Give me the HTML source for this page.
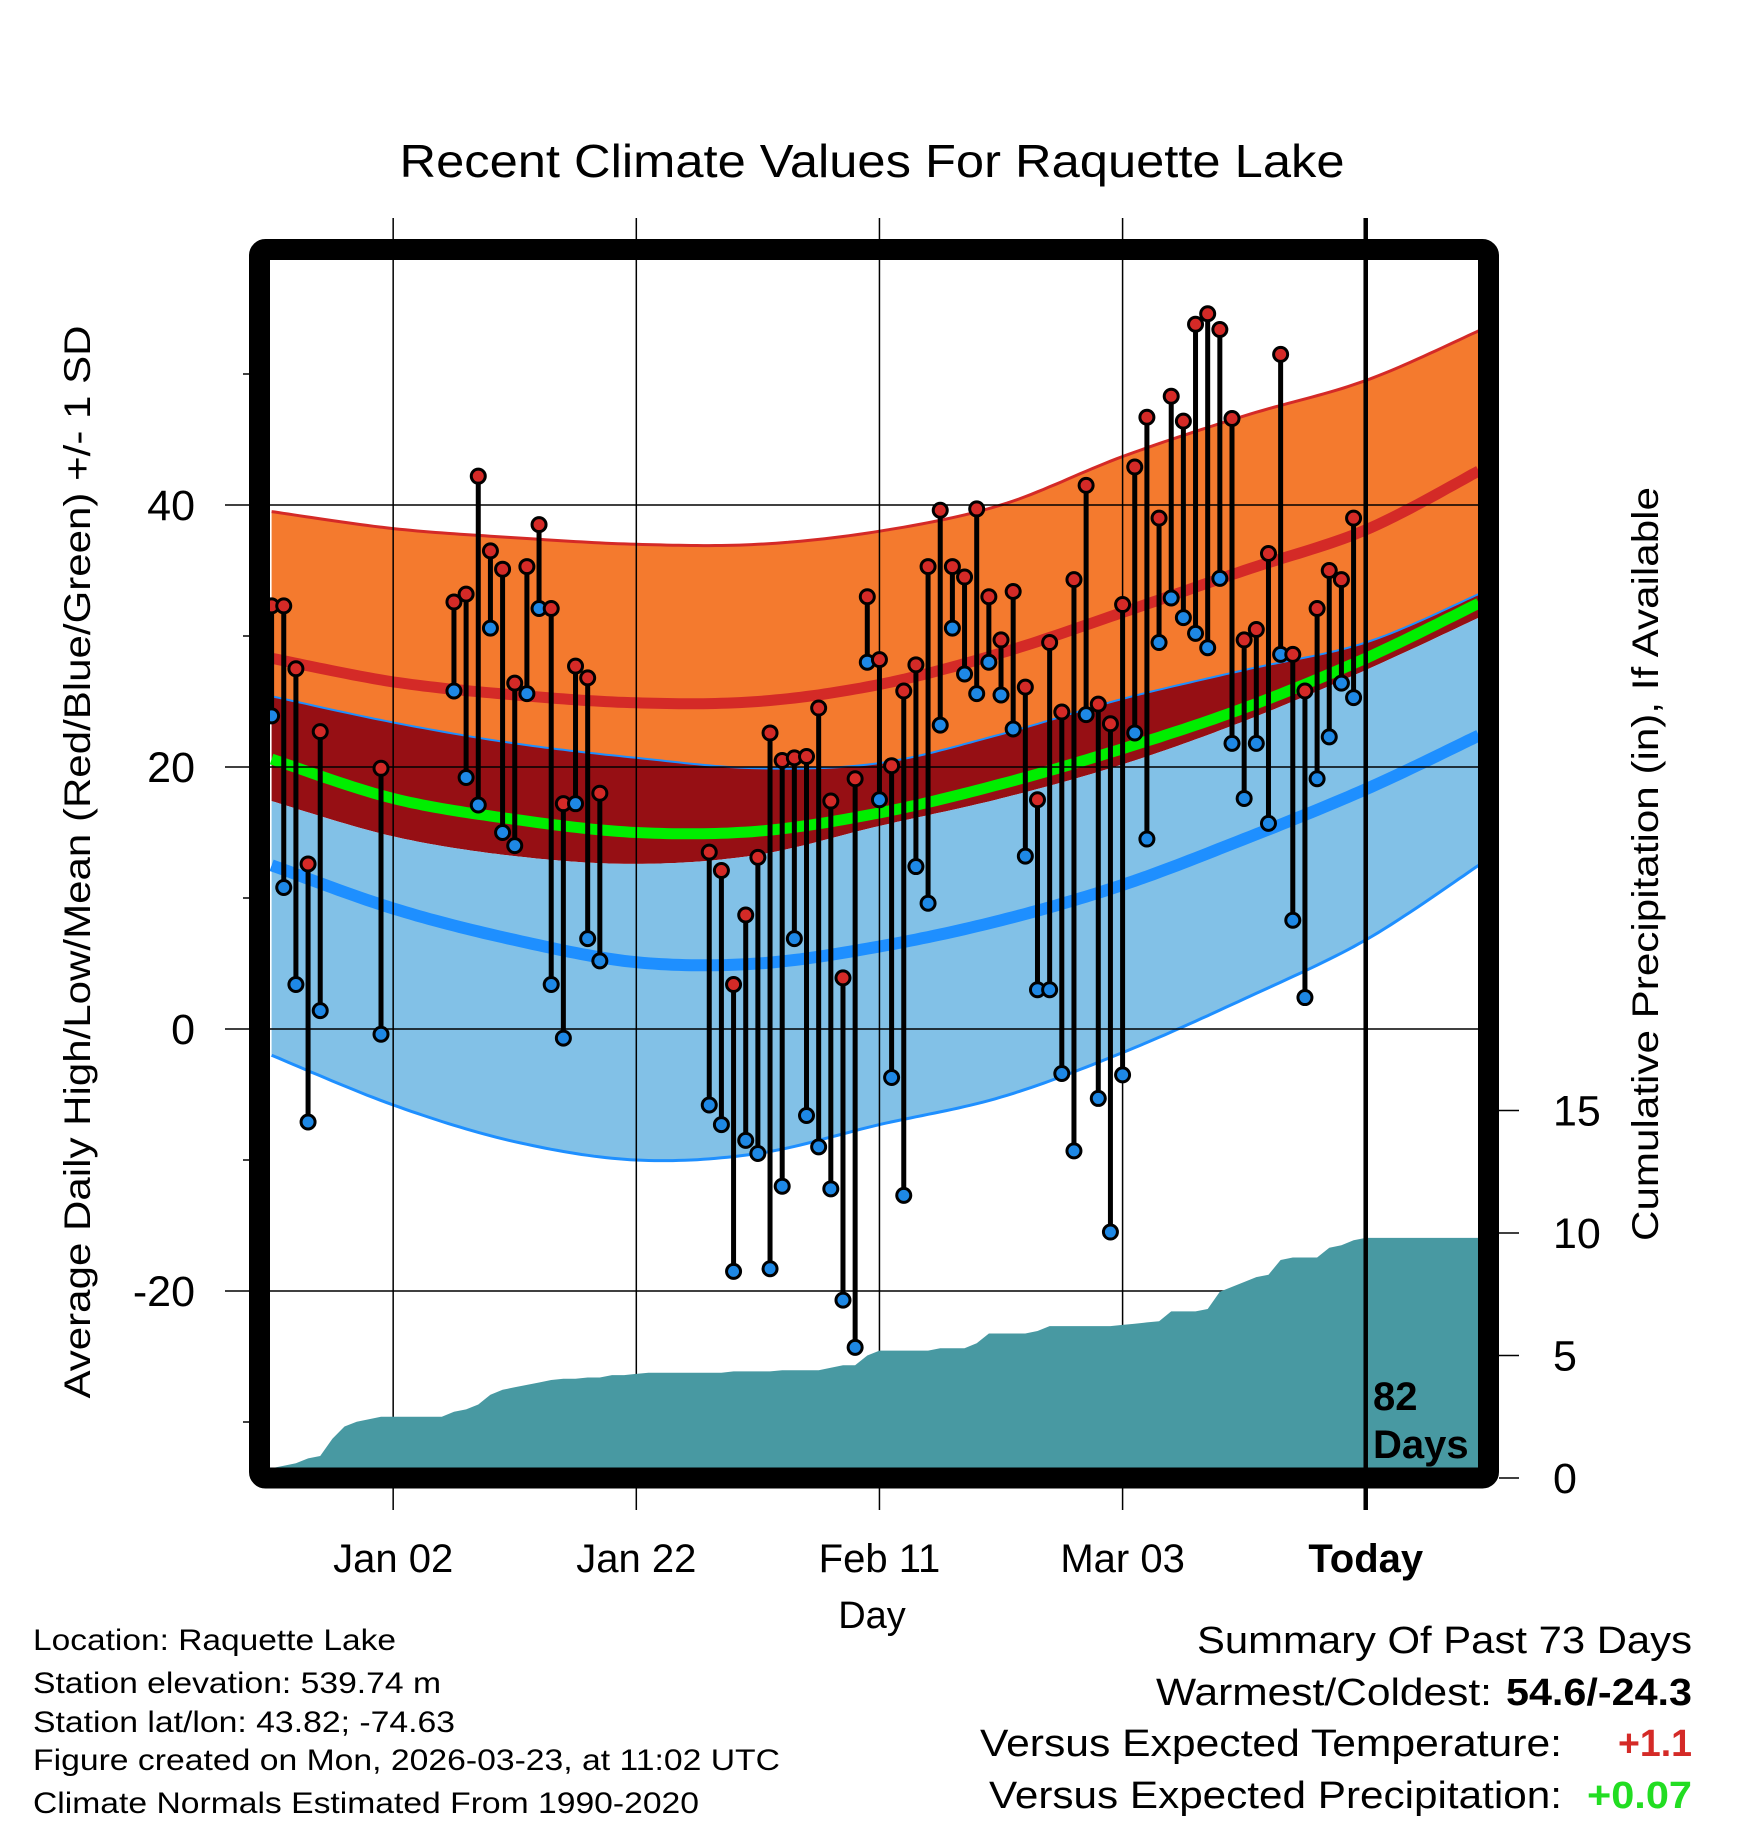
<!DOCTYPE html>
<html><head><meta charset="utf-8"><style>
html,body{margin:0;padding:0;background:#fff;}
svg{display:block;font-family:"Liberation Sans",Arial,sans-serif;}
</style></head><body>
<svg id="chart" width="1748" height="1828" viewBox="0 0 1748 1828" xmlns="http://www.w3.org/2000/svg">
<defs><clipPath id="plotclip"><rect x="270" y="260" width="1208" height="1208"/></clipPath></defs>
<text x="872" y="177" font-size="46" text-anchor="middle" textLength="945" lengthAdjust="spacingAndGlyphs">Recent Climate Values For Raquette Lake</text>
<g id="bands" clip-path="url(#plotclip)"></g>
<g id="grid"></g>
<g id="precip" clip-path="url(#plotclip)"></g>
<g id="marks"></g>
<g id="axes"></g>
<rect x="259.5" y="249.5" width="1229" height="1228.5" rx="6" fill="none" stroke="#000" stroke-width="21"/>
<text x="1373" y="1410" font-size="40" font-weight="bold">82</text>
<text x="1373" y="1458" font-size="40" font-weight="bold">Days</text>
<text transform="translate(90,862) rotate(-90)" font-size="37" text-anchor="middle" textLength="1073" lengthAdjust="spacingAndGlyphs">Average Daily High/Low/Mean (Red/Blue/Green) +/- 1 SD</text>
<text transform="translate(1658,864) rotate(-90)" font-size="37" text-anchor="middle" textLength="754" lengthAdjust="spacingAndGlyphs">Cumulative Precipitation (in), If Available</text>
<text x="872" y="1628" font-size="38" text-anchor="middle">Day</text>
<g font-size="30">
<text x="33" y="1650" textLength="363" lengthAdjust="spacingAndGlyphs">Location: Raquette Lake</text>
<text x="33" y="1693" textLength="408" lengthAdjust="spacingAndGlyphs">Station elevation: 539.74 m</text>
<text x="33" y="1732" textLength="422" lengthAdjust="spacingAndGlyphs">Station lat/lon: 43.82; -74.63</text>
<text x="33" y="1770" textLength="747" lengthAdjust="spacingAndGlyphs">Figure created on Mon, 2026-03-23, at 11:02 UTC</text>
<text x="33" y="1813" textLength="666" lengthAdjust="spacingAndGlyphs">Climate Normals Estimated From 1990-2020</text>
</g>
<g font-size="38">
<text x="1197" y="1653" textLength="495" lengthAdjust="spacingAndGlyphs">Summary Of Past 73 Days</text>
<text x="1156" y="1705" textLength="336" lengthAdjust="spacingAndGlyphs">Warmest/Coldest:</text>
<text x="1506" y="1705" font-weight="bold" textLength="186" lengthAdjust="spacingAndGlyphs">54.6/-24.3</text>
<text x="980" y="1756" textLength="582" lengthAdjust="spacingAndGlyphs">Versus Expected Temperature:</text>
<text x="1618" y="1756" font-weight="bold" fill="#d42a27" textLength="74" lengthAdjust="spacingAndGlyphs">+1.1</text>
<text x="989" y="1808" textLength="573" lengthAdjust="spacingAndGlyphs">Versus Expected Precipitation:</text>
<text x="1587" y="1808" font-weight="bold" fill="#22dd22" textLength="105" lengthAdjust="spacingAndGlyphs">+0.07</text>
</g>
</svg>
<script>
// ---- data ----
const normDays   = [0,10,20,30,40,50,60,70,80,90,99.3];
const highPlusSD = [39.5,38.2,37.5,37.0,37.0,38.0,40.0,43.7,46.8,49.5,53.3];
const meanHigh   = [28.3,26.5,25.5,24.9,25.0,26.3,28.7,31.8,35.0,38.1,42.6];
const highMinusSD= [25.4,23.4,21.8,20.7,19.9,20.3,22.5,25.2,27.4,29.5,33.2];
const meanAvg    = [20.6,17.6,16.0,15.0,15.1,16.5,18.7,21.4,24.5,28.3,32.5];
const lowPlusSD  = [17.4,14.7,13.2,12.6,13.3,15.5,17.6,20.2,23.5,27.4,31.4];
const meanLow    = [12.5,9.2,6.8,5.1,5.0,6.3,8.3,11.0,14.5,18.3,22.4];
const lowMinusSD = [-2.0,-5.8,-8.6,-10.0,-9.5,-7.3,-5.2,-1.8,2.3,6.8,12.5];

const obsDays = [0,1,2,3,4,9,15,16,17,18,19,20,21,22,23,24,25,26,27,36,37,38,39,40,41,42,43,44,45,46,47,48,49,50,51,52,53,54,55,56,57,58,59,60,61,62,63,64,65,66,67,68,69,70,71,72,73,74,75,76,77,78,79,80,81,82,83,84,85,86,87,88,89];
const obsHigh = [32.3,32.3,27.5,12.6,22.7,19.9,32.6,33.2,42.2,36.5,35.1,26.4,35.3,38.5,32.1,17.2,27.7,26.8,18.0,13.5,12.1,3.4,8.7,13.1,22.6,20.5,20.7,20.8,24.5,17.4,3.9,19.1,33.0,28.2,20.1,25.8,27.8,35.3,39.6,35.3,34.5,39.7,33.0,29.7,33.4,26.1,17.5,29.5,24.2,34.3,41.5,24.8,23.3,32.4,42.9,46.7,39.0,48.3,46.4,53.8,54.6,53.4,46.6,29.7,30.5,36.3,51.5,28.6,25.8,32.1,35.0,34.3,39.0];
const obsLow  = [23.9,10.8,3.4,-7.1,1.4,-0.4,25.8,19.2,17.1,30.6,15.0,14.0,25.6,32.1,3.4,-0.7,17.2,6.9,5.2,-5.8,-7.3,-18.5,-8.5,-9.5,-18.3,-12.0,6.9,-6.6,-9.0,-12.2,-20.7,-24.3,28.0,17.5,-3.7,-12.7,12.4,9.6,23.2,30.6,27.1,25.6,28.0,25.5,22.9,13.2,3.0,3.0,-3.4,-9.3,24.0,-5.3,-15.5,-3.5,22.6,14.5,29.5,32.9,31.4,30.2,29.1,34.4,21.8,17.6,21.8,15.7,28.6,8.3,2.4,19.1,22.3,26.4,25.3];

const precipCum = [0.4,0.5,0.6,0.8,0.9,1.6,2.1,2.3,2.4,2.5,2.5,2.5,2.5,2.5,2.5,2.7,2.8,3.0,3.4,3.6,3.7,3.8,3.9,4.0,4.05,4.05,4.1,4.1,4.2,4.2,4.25,4.3,4.3,4.3,4.3,4.3,4.3,4.3,4.35,4.35,4.35,4.35,4.4,4.4,4.4,4.4,4.5,4.6,4.6,5.0,5.2,5.2,5.2,5.2,5.2,5.3,5.3,5.3,5.5,5.9,5.9,5.9,5.9,6.0,6.2,6.2,6.2,6.2,6.2,6.2,6.25,6.3,6.35,6.4,6.8,6.8,6.8,6.9,7.6,7.8,8.0,8.2,8.3,8.9,9.0,9.0,9.0,9.4,9.5,9.7,9.8];

const tempTicks = [40,20,0,-20];
const tempMinor = [50,30,10,-10,-30];
const precipTicks = [0,5,10,15];
const xTickDays = [10,30,50,70,90];
const xTickLabels = ["Jan 02","Jan 22","Feb 11","Mar 03","Today"];
const todayDay = 90;

// ---- scales ----
const X = d => 271.6 + 12.157*d;
const Y = t => 1029 - 13.1*t;
const YP = p => 1478 - 24.5*p;
const NS = "http://www.w3.org/2000/svg";
function mk(tag, attrs, parent){const e=document.createElementNS(NS,tag);for(const k in attrs)e.setAttribute(k,attrs[k]);parent.appendChild(e);return e;}

function curvePts(vals){
  const pts=[];
  const n=normDays.length;
  for(let i=0;i<n-1;i++){
    const p0=i>0?i-1:i, p3=i+2<n?i+2:i+1;
    for(let s=0;s<20;s++){
      const t=s/20;
      const h=(a,b,c,d)=>0.5*((2*b)+(-a+c)*t+(2*a-5*b+4*c-d)*t*t+(-a+3*b-3*c+d)*t*t*t);
      pts.push([X(h(normDays[p0],normDays[i],normDays[i+1],normDays[p3])), Y(h(vals[p0],vals[i],vals[i+1],vals[p3]))]);
    }
  }
  pts.push([X(normDays[n-1]),Y(vals[n-1])]);
  return pts;
}
const toD = pts => pts.map((p,i)=>(i?'L':'M')+p[0].toFixed(1)+','+p[1].toFixed(1)).join('');
function band(a,b,fill,name){
  const pa=curvePts(a), pb=curvePts(b).reverse();
  const el=mk('path',{d:toD(pa.concat(pb))+'Z',fill:fill},bands);
  
  
}
function line(v,col,w,name){
  const el=mk('path',{d:toD(curvePts(v)),fill:'none',stroke:col,'stroke-width':w},bands);
  
  
}
const bands=document.getElementById('bands');
band(highPlusSD,highMinusSD,'#f47a2e','high-sd-band');
band(highMinusSD,lowPlusSD,'#960f14','overlap-band');
band(lowPlusSD,lowMinusSD,'#82c1e7','low-sd-band');
line(highPlusSD,'#d42a27',3,'high-plus-sd-line');
line(highMinusSD,'#1e8fff',2,'high-minus-sd-line');
line(lowMinusSD,'#1e8fff',3,'low-minus-sd-line');
line(meanAvg,'#00ee00',11,'mean-avg-line');
line(meanHigh,'#d42a27',11,'mean-high-line');
line(meanLow,'#1e8fff',12,'mean-low-line');

// grid
const grid=document.getElementById('grid');
tempTicks.forEach(t=>{
  const el=mk('line',{x1:225,x2:1478,y1:Y(t),y2:Y(t),stroke:'#000','stroke-width':1.5},grid);
  
  
  const tx=mk('text',{x:195,y:Y(t)+15,'font-size':43,'text-anchor':'end'},grid);
  tx.textContent=t;
  
  
});
tempMinor.forEach(t=>{
  const el=mk('line',{x1:243,x2:260,y1:Y(t),y2:Y(t),stroke:'#000','stroke-width':1.5},grid);
  
  
});
xTickDays.forEach((d,i)=>{
  const today = d===todayDay;
  const el=mk('line',{x1:X(d),x2:X(d),y1:218,y2:1510,stroke:'#000','stroke-width':today?4.5:1.5},grid);
  
  
  const tx=mk('text',{x:X(d),y:1572,'font-size':40,'text-anchor':'middle','font-weight':today?'bold':'normal'},grid);
  tx.textContent=xTickLabels[i];
  
  
});
precipTicks.forEach(p=>{
  const el=mk('line',{x1:1499,x2:1519,y1:YP(p),y2:YP(p),stroke:'#000','stroke-width':1.5},grid);
  
  
  const tx=mk('text',{x:1553,y:YP(p)+15,'font-size':43},grid);
  tx.textContent=p;
  
  
});

// precip area
const precip=document.getElementById('precip');
let pd='M'+X(0)+','+YP(0);
precipCum.forEach((p,i)=>{pd+='L'+X(i).toFixed(1)+','+YP(p).toFixed(1);});
pd+='L1480,'+YP(precipCum[precipCum.length-1]).toFixed(1)+'L1480,'+YP(0)+'Z';
const pa=mk('path',{d:pd,fill:'#4899a2'},precip);


const tl=mk('line',{x1:X(todayDay),x2:X(todayDay),y1:260,y2:1468,stroke:'#000','stroke-width':4.5},precip);



// marks
const marks=document.getElementById('marks');
obsDays.forEach((d,i)=>{
  const x=X(d);
  const s=mk('line',{x1:x,x2:x,y1:Y(obsHigh[i]),y2:Y(obsLow[i]),stroke:'#000','stroke-width':5},marks);
  
  
});
obsDays.forEach((d,i)=>{
  const x=X(d);
  const lo=mk('circle',{cx:x,cy:Y(obsLow[i]),r:7,fill:'#1e88e5',stroke:'#000','stroke-width':3},marks);
  
  
  const hi=mk('circle',{cx:x,cy:Y(obsHigh[i]),r:7,fill:'#d42a27',stroke:'#000','stroke-width':3},marks);
  
  
});
</script>
</body></html>
